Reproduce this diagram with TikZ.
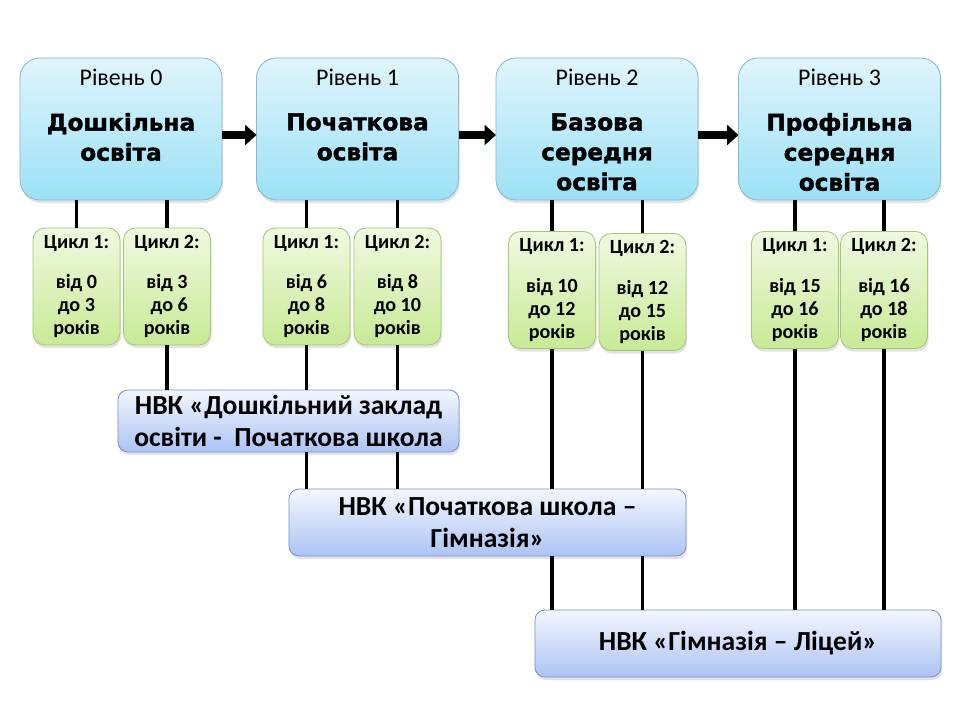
\documentclass[tikz,border=0pt]{standalone}
\usepackage{fontspec}
\setmainfont{Carlito}
\newfontfamily\titlefont[BoldFont={DejaVu Sans Bold},BoldFeatures={FakeBold=1.6}]{DejaVu Sans}
\usetikzlibrary{calc,arrows.meta,shadows}

\definecolor{levtop}{RGB}{224,245,252}
\definecolor{levbot}{RGB}{155,225,246}
\definecolor{levline}{RGB}{135,185,212}
\definecolor{cyctop}{RGB}{240,249,224}
\definecolor{cycbot}{RGB}{200,234,150}
\definecolor{cycline}{RGB}{165,200,120}
\definecolor{nvktop}{RGB}{244,247,254}
\definecolor{nvkbot}{RGB}{172,195,244}
\definecolor{nvkline}{RGB}{120,148,200}

\tikzset{
  softshadow/.style={drop shadow={opacity=0.22,shadow xshift=0.8pt,shadow yshift=-2.2pt}},
  levelbox/.style={draw=levline,line width=0.6pt,rounded corners=0.5cm,
    minimum width=5.05cm,minimum height=3.55cm,outer sep=0pt,
    top color=levtop,bottom color=levbot,softshadow},
  levhead/.style={font=\fontsize{17}{20}\selectfont,inner sep=0pt},
  levtitle/.style={font=\titlefont\bfseries\fontsize{16.5}{21.3}\selectfont,
    align=center,inner sep=0pt},
  cyclebox/.style={draw=cycline,line width=0.6pt,rounded corners=0.3cm,
    minimum width=2.175cm,minimum height=2.925cm,outer sep=0pt,inner sep=1pt,
    top color=cyctop,bottom color=cycbot,softshadow,align=center,
    font=\bfseries\fontsize{14.3}{16.4}\selectfont},
  nvkbox/.style={draw=nvkline,line width=0.6pt,rounded corners=0.25cm,
    outer sep=0pt,inner sep=1pt,top color=nvktop,bottom color=nvkbot,
    softshadow,align=center,font=\bfseries\fontsize{19.6}{22.5}\selectfont},
  link/.style={line width=2.8pt},
  bigarrow/.style={line width=5.6pt,-{Triangle[length=8pt,width=14pt]}}
}

\begin{document}
\begin{tikzpicture}[x=0.025cm,y=-0.025cm]
  \useasboundingbox[fill=white] (0,0) rectangle (960,720);

  % levels
  \node[levelbox] (l0) at (121,129) {};
  \node[levelbox] (l1) at (357.5,129) {};
  \node[levelbox] (l2) at (597,129) {};
  \node[levelbox] (l3) at (839.5,129) {};

  \node[levhead] (l0h) at (121,77) {Рівень 0};
  \node[levhead] (l1h) at (357.5,77) {Рівень 1};
  \node[levhead] (l2h) at (597,77) {Рівень 2};
  \node[levhead] (l3h) at (839.5,77) {Рівень 3};

  \node[levtitle] (l0t) at (121,137) {Дошкільна\\освіта};
  \node[levtitle] (l1t) at (357.5,137) {Початкова\\освіта};
  \node[levtitle] (l2t) at (597,152) {Базова\\середня\\освіта};
  \node[levtitle] (l3t) at (839.5,152) {Профільна\\середня\\освіта};

  \draw[bigarrow] ($(l0.east)+(0,6)$) -- ($(l1.west)+(0,6)$);
  \draw[bigarrow] ($(l1.east)+(0,6)$) -- ($(l2.west)+(0,6)$);
  \draw[bigarrow] ($(l2.east)+(0,6)$) -- ($(l3.west)+(0,6)$);

  % cycles
  \node[cyclebox] (c01) at (76.5,286.5) {Цикл 1:\\[12.5pt]від 0\\до 3\\років};
  \node[cyclebox] (c02) at (167,286.5) {Цикл 2:\\[12.5pt]від 3\\\ до 6\\років};
  \node[cyclebox] (c11) at (306.5,286.5) {Цикл 1:\\[12.5pt]від 6\\до 8\\років};
  \node[cyclebox] (c12) at (397.5,286.5) {Цикл 2:\\[12.5pt]від 8\\до 10\\років};
  \node[cyclebox] (c21) at (552,290) {Цикл 1:\\[12.5pt]від 10\\до 12\\років};
  \node[cyclebox] (c22) at (642.5,292) {Цикл 2:\\[12.5pt]від 12\\до 15\\років};
  \node[cyclebox] (c31) at (795,290) {Цикл 1:\\[12.5pt]від 15\\до 16\\років};
  \node[cyclebox] (c32) at (884,290) {Цикл 2:\\[12.5pt]від 16\\до 18\\років};

  % complexes
  \node[nvkbox,minimum width=8.525cm,minimum height=1.55cm] (n1) at (288.5,421)
    {НВК «Дошкільний заклад\\освіти -\ \ Початкова школа};
  \node[nvkbox,minimum width=9.925cm,minimum height=1.675cm] (n2) at (487.5,522.5)
    {НВК «Початкова школа –\\Гімназія»};
  \node[nvkbox,minimum width=10.15cm,minimum height=1.675cm] (n3) at (738,643.5)
    {НВК «Гімназія – Ліцей»};

  % links
  \foreach \c/\l in {c01/l0,c02/l0,c11/l1,c12/l1,c21/l2,c22/l2,c31/l3,c32/l3}
    \draw[link] (\c.north) -- (\c.north |- \l.south);
  \foreach \c/\n in {c02/n1,c11/n1,c12/n1,c21/n2,c22/n2,c31/n3,c32/n3}
    \draw[link] (\c.south) -- (\c.south |- \n.north);
  \draw[link] (c11.south |- n1.south) -- (c11.south |- n2.north);
  \draw[link] (c12.south |- n1.south) -- (c12.south |- n2.north);
  \draw[link] (c21.south |- n2.south) -- (c21.south |- n3.north);
  \draw[link] (c22.south |- n2.south) -- (c22.south |- n3.north);
\end{tikzpicture}
\end{document}
